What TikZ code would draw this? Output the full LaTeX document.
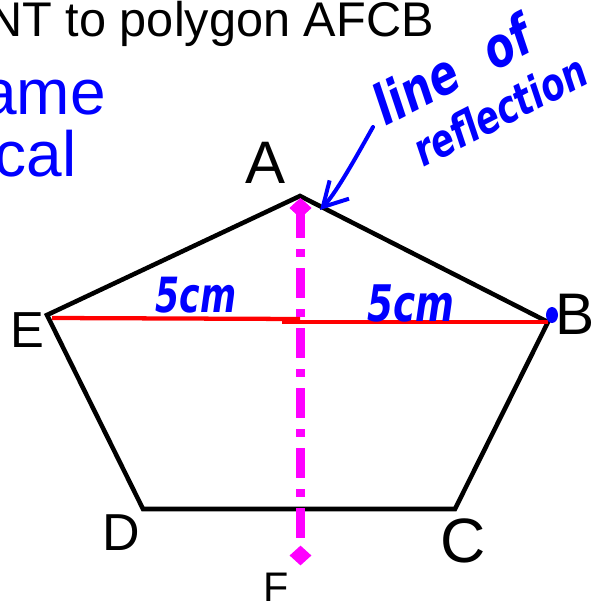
\documentclass[tikz,border=0pt]{standalone}
\usepackage{fontspec}
\setmainfont{Liberation Sans}
\newfontfamily\handfont{DejaVu Sans}
\usepackage{xcolor}
\usepackage{tikz}
\usetikzlibrary{arrows.meta,shapes.geometric}
\definecolor{inkblue}{HTML}{0000FF}
\definecolor{mirrormagenta}{HTML}{FF00FF}
\definecolor{halfred}{HTML}{FF0000}
\tikzset{
  edge/.style={black, line width=3.4pt},
  halfline/.style={halfred, line width=3.2pt},
  mirrorline/.style={mirrormagenta, line width=7pt, dash pattern=on 22.5pt off 8.25pt on 6pt off 8.25pt},
  endmark/.style={diamond, fill=mirrormagenta, inner sep=0pt, minimum width=16.5pt, minimum height=15pt},
  vertexlabel/.style={inner sep=0pt, font=\fontsize{#1}{#1}\selectfont},
  slidetext/.style={inner sep=0pt, anchor=base east, font=\fontsize{#1}{#1}\selectfont},
  handnote/.style={inkblue, inner sep=0pt, font=\handfont\bfseries\itshape\fontsize{#1}{#1}\selectfont},
  handarrow/.style={inkblue, line width=3pt, line cap=round, -{Straight Barb[length=18pt,width=20pt,line width=3pt]}}
}
\begin{document}
\begin{tikzpicture}[x=0.75pt,y=-0.75pt]
  \useasboundingbox (0,0) rectangle (599,606);
  \clip (0,0) rectangle (599,606);
  \node[slidetext=36.5pt] (heading) at (434,37) {NT to polygon AFCB};
  \node[slidetext=48pt, text=inkblue] (sameword) at (106,115) {ame};
  \node[slidetext=48pt, text=inkblue] (calword) at (77,176) {cal};
  \coordinate (A) at (300,196);
  \coordinate (B) at (548,322);
  \coordinate (C) at (455,509);
  \coordinate (D) at (143,509);
  \coordinate (E) at (47,315);
  \draw[edge] (A) -- (B) -- (C) -- (D) -- (E) -- cycle;
  \node[endmark] (topmark) at (300.5,208) {};
  \node[endmark] (Fmark) at (300.5,555.5) {};
  \draw[mirrorline, shorten >=12pt] (topmark.center) -- (Fmark.center);
  \node[endmark] at (topmark) {};
  \coordinate (redstart) at (52,318);
  \coordinate (midleft) at (300,319);
  \coordinate (midright) at (282,322);
  \draw[halfline] (redstart) -- (midleft);
  \draw[halfline] (midright) -- (B);
  \fill[inkblue] (552,315) ellipse (6 and 8);
  \node[vertexlabel=45pt] (labA) at (266,163) {A};
  \node[vertexlabel=44pt] (labB) at (575,314) {B};
  \node[vertexlabel=47pt] (labC) at (463,541) {C};
  \node[vertexlabel=39pt] (labD) at (121,533) {D};
  \node[vertexlabel=38pt] (labE) at (27,330) {E};
  \node[vertexlabel=31pt] (labF) at (276,587) {F};
  \node[handnote=26pt, yscale=1.4] (leftlen) at (196,295) {5cm};
  \node[handnote=28pt, yscale=1.35] (rightlen) at (411,303) {5cm};
  \node[handnote=32pt, anchor=base west, rotate=27, yscale=1.3] (noteline) at (385,127) {line\hspace{0.8em}of};
  \node[handnote=26pt, anchor=base west, rotate=27, yscale=1.3] (notereflect) at (423,168) {reflection};
  \coordinate (notetail) at (373,127);
  \coordinate (notetip) at (320,210);
  \draw[handarrow] (notetail) .. controls (360,150) and (337,192) .. (notetip);
\end{tikzpicture}
\end{document}
